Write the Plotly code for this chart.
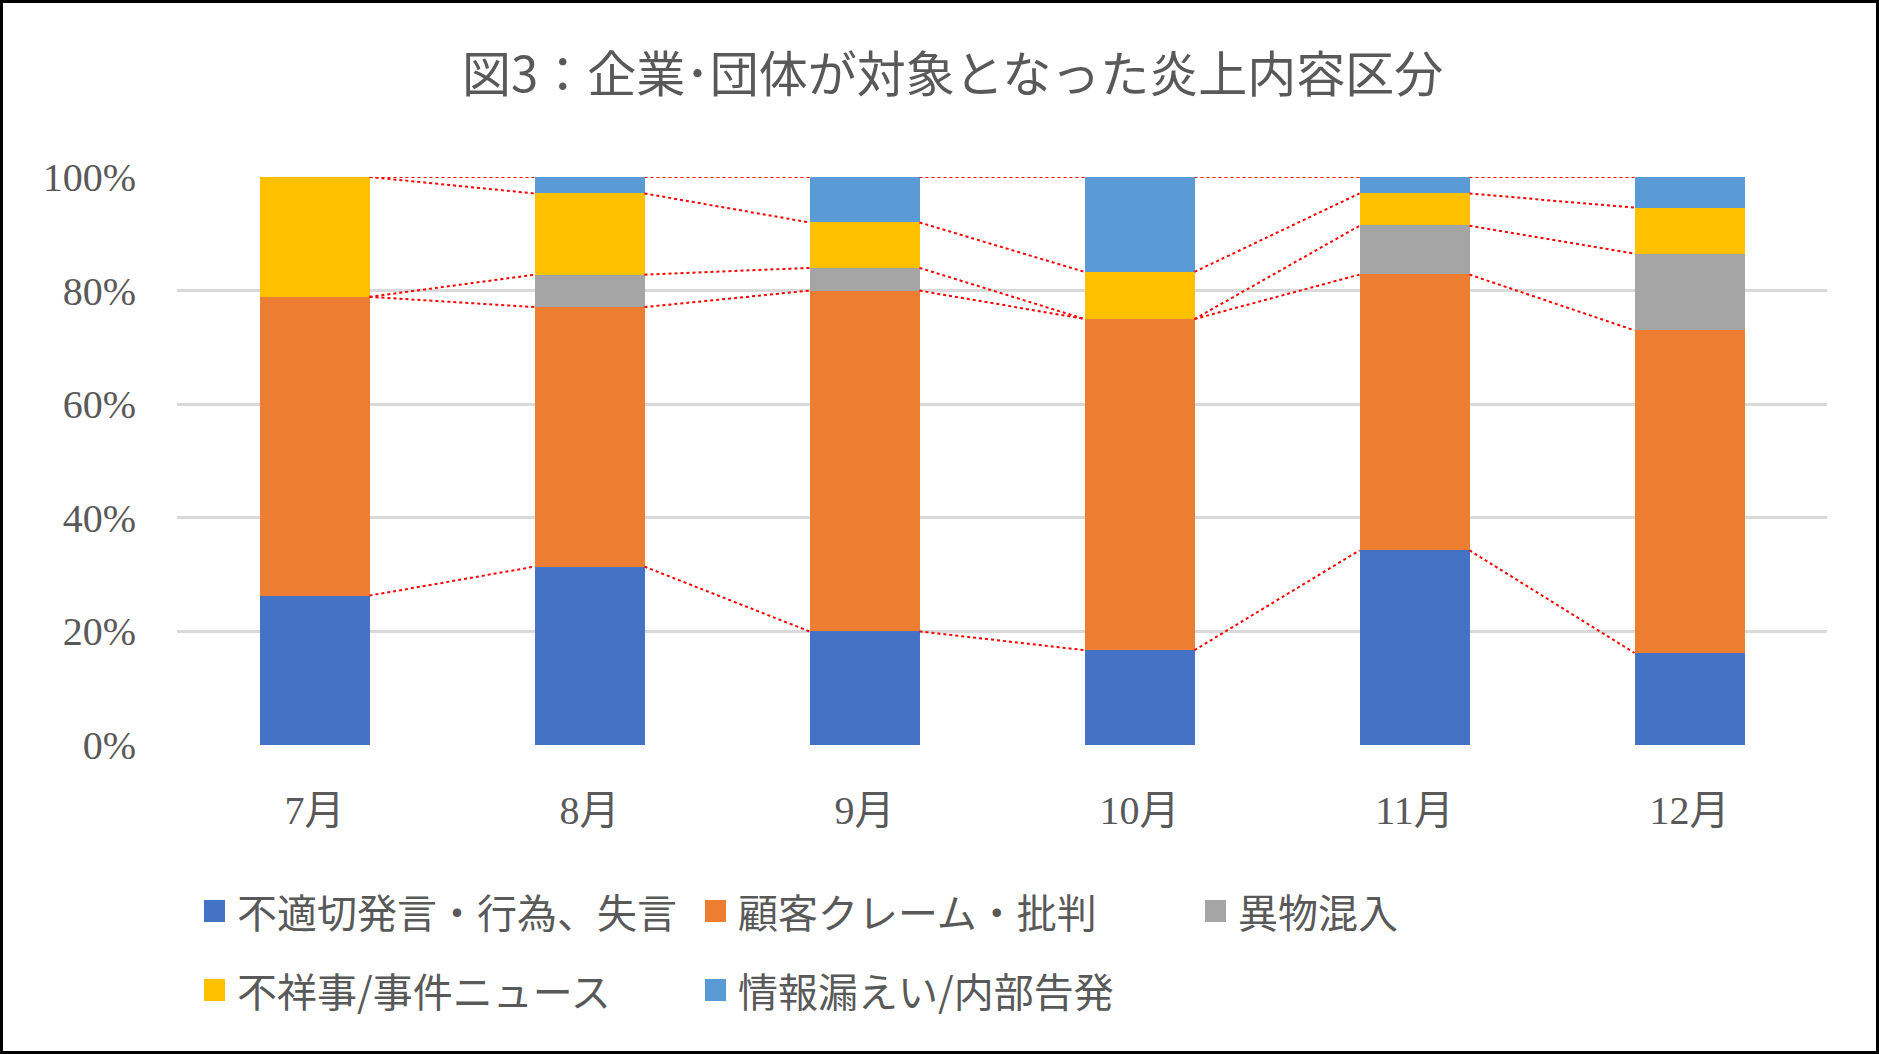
import plotly.graph_objects as go

# ---- data (percent of each month) ----
months = ["7月", "8月", "9月", "10月", "11月", "12月"]
series_names = ["不適切発言・行為、失言", "顧客クレーム・批判", "異物混入",
                "不祥事/事件ニュース", "情報漏えい/内部告発"]
s_inappropriate = [26.3, 31.4, 20.0, 16.7, 34.3, 16.2]
s_complaint = [52.6, 45.7, 60.0, 58.3, 48.6, 56.8]
s_foreign = [0.0, 5.7, 4.0, 0.0, 8.6, 13.5]
s_scandal = [21.1, 14.3, 8.0, 8.3, 5.7, 8.1]
s_leak = [0.0, 2.9, 8.0, 16.7, 2.9, 5.4]
y_ticks = [0, 20, 40, 60, 80, 100]
y_ticklabels = ["0%", "20%", "40%", "60%", "80%", "100%"]

series_values = [s_inappropriate, s_complaint, s_foreign, s_scandal, s_leak]
colors = ["#4472C4", "#ED7D31", "#A5A5A5", "#FFC000", "#5B9BD5"]

W, H = 1879, 1054
L, R, T, B = 177, 52, 177, 309
PW, PH = W - L - R, H - T - B

def px(x):
    return (x - L) / PW

def py(y):
    return (H - B - y) / PH

TXT = "#595959"
NUM_FONT = "Liberation Serif, Noto Sans CJK JP"
CJK_FONT = "Noto Sans CJK JP"
bw = 0.4
xs = list(range(len(months)))

fig = go.Figure()
for name, vals, c in zip(series_names, series_values, colors):
    fig.add_trace(go.Bar(x=xs, y=vals, name=name, width=bw,
                         marker=dict(color=c, line=dict(width=0)),
                         showlegend=False))

# series lines (cumulative tops, normalized to 100)
totals = [sum(v[i] for v in series_values) for i in xs]
cum = [0.0] * len(xs)
for vals in series_values:
    cum = [cum[i] + vals[i] for i in xs]
    norm = [cum[i] / totals[i] * 100 for i in xs]
    lx, ly = [], []
    for i in range(len(xs) - 1):
        lx += [xs[i] + bw / 2, xs[i + 1] - bw / 2, None]
        ly += [norm[i], norm[i + 1], None]
    fig.add_trace(go.Scatter(x=lx, y=ly, mode="lines", showlegend=False,
                             hoverinfo="skip",
                             line=dict(color="#FF0000", width=2, dash="dot")))

# manual legend
legend_pos = [(204, 911), (705, 911), (1205, 911), (204, 990), (705, 990)]
shapes = []
annotations = []
for (lx0, ly0), name, c in zip(legend_pos, series_names, colors):
    shapes.append(dict(type="rect", xref="paper", yref="paper",
                       x0=px(lx0), x1=px(lx0 + 21), y0=py(ly0 + 11), y1=py(ly0 - 11),
                       fillcolor=c, line=dict(width=0)))
    annotations.append(dict(text=name, xref="paper", yref="paper",
                            x=px(lx0 + 31), y=py(ly0), xanchor="left", yanchor="middle",
                            showarrow=False, font=dict(family=CJK_FONT, size=40, color=TXT)))

# outer border
shapes.append(dict(type="rect", xref="paper", yref="paper",
                   x0=px(1.5), x1=px(W - 1.5), y0=py(H - 1.5), y1=py(1.5),
                   line=dict(color="#000000", width=3), layer="above"))

fig.update_layout(
    width=W, height=H,
    margin=dict(l=L, r=R, t=T, b=B),
    paper_bgcolor="white", plot_bgcolor="white",
    barmode="stack",
    title=dict(text="図3：企業･団体が対象となった炎上内容区分", x=0.507, xanchor="center",
               y=1 - 75 / H, yanchor="middle",
               font=dict(family=CJK_FONT, size=49, color=TXT)),
    xaxis=dict(range=[-0.5, len(months) - 0.5], tickvals=xs, ticktext=months,
               showgrid=False, zeroline=False, showline=False, ticks="",
               ticklabelstandoff=38,
               tickfont=dict(family=NUM_FONT, size=40, color=TXT)),
    yaxis=dict(range=[0, 100], tickvals=y_ticks, ticktext=y_ticklabels,
               showgrid=True, gridcolor="#D9D9D9", gridwidth=2.5,
               zeroline=False, showline=False, ticks="",
               ticklabelstandoff=40,
               tickfont=dict(family=NUM_FONT, size=40, color=TXT)),
    shapes=shapes,
    annotations=annotations,
    showlegend=False,
)
fig.write_html("out.html", config={"displayModeBar": False},
               post_script="document.body.style.margin='0';")
